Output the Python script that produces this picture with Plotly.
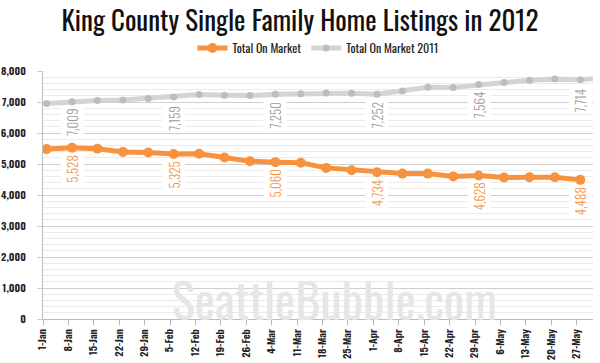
import plotly.graph_objects as go
import pandas as pd

# ---- data ----
dates_2012 = pd.date_range("2012-01-02", periods=22, freq="7D")
dates_2011 = pd.date_range("2012-01-02", periods=23, freq="7D")
tick_dates = pd.date_range("2012-01-01", periods=22, freq="7D")
tick_labels = ["1-Jan", "8-Jan", "15-Jan", "22-Jan", "29-Jan", "5-Feb", "12-Feb", "19-Feb",
               "26-Feb", "4-Mar", "11-Mar", "18-Mar", "25-Mar", "1-Apr", "8-Apr", "15-Apr",
               "22-Apr", "29-Apr", "6-May", "13-May", "20-May", "27-May"]
total_2012 = [5480, 5528, 5490, 5390, 5370, 5325, 5330, 5210, 5090, 5060, 5040,
              4875, 4800, 4734, 4690, 4690, 4600, 4628, 4565, 4575, 4575, 4488]
total_2011 = [6950, 7009, 7046, 7066, 7110, 7159, 7238, 7216, 7206, 7250, 7270,
              7290, 7280, 7252, 7355, 7474, 7464, 7564, 7627, 7700, 7742, 7714, 7780]
label_idx = [1, 5, 9, 13, 17, 21]

ORANGE = "#F7923F"
GRAY_LINE = "#D4D4D4"
GRAY_MARK = "#BDBDBD"
FONT = "Oswald, Roboto Condensed, sans-serif"

fig = go.Figure()
fig.add_trace(go.Scatter(
    x=dates_2012, y=total_2012, name="Total On Market", mode="lines+markers",
    line=dict(color=ORANGE, width=5), marker=dict(color=ORANGE, size=10),
))
fig.add_trace(go.Scatter(
    x=dates_2011, y=total_2011, name="Total On Market 2011", mode="lines+markers",
    line=dict(color=GRAY_LINE, width=5), marker=dict(color=GRAY_MARK, size=7),
))

annotations = []
for i in label_idx:
    for xs, ys, col in ((dates_2012, total_2012, ORANGE), (dates_2011, total_2011, "#9A9A9A")):
        annotations.append(dict(
            x=xs[i], y=ys[i], xref="x", yref="y", text=f"{ys[i]:,}",
            textangle=-90, showarrow=True, arrowcolor="rgba(0,0,0,0)", ax=0, ay=21,
            bgcolor="white", borderpad=1,
            font=dict(family=FONT, size=13, color=col, weight=300),
        ))
annotations.append(dict(
    x=0.53, y=0.083, xref="paper", yref="paper", xanchor="center", yanchor="middle",
    text="SeattleBubble.com", showarrow=False,
    font=dict(family=FONT, size=48, color="#E6E6E6"),
))

fig.update_layout(
    width=600, height=363,
    margin=dict(l=43, r=7, t=71, b=44, autoexpand=False),
    paper_bgcolor="white", plot_bgcolor="white",
    title=dict(text="King County Single Family Home Listings in 2012",
               x=0.5, xanchor="center", y=0.94, yanchor="middle",
               font=dict(family=FONT, size=27, color="#111111")),
    legend=dict(orientation="h", x=0.5, xanchor="center", yref="container",
                y=1 - 48 / 363, yanchor="middle",
                font=dict(family=FONT, size=12, color="#222222"), itemwidth=30,
                bgcolor="rgba(0,0,0,0)"),
    annotations=annotations,
    showlegend=True,
)
fig.update_xaxes(
    range=["2012-01-01", "2012-05-31 12:00"],
    tickvals=tick_dates, ticktext=tick_labels, tickangle=-90,
    tickfont=dict(family=FONT, size=10.5, color="#222222", weight=600),
    showgrid=False, showline=True, linecolor="#BBBBBB", linewidth=1,
    ticks="outside", ticklen=5, tickcolor="#BBBBBB", automargin=False,
)
fig.update_yaxes(
    range=[0, 8000], tickvals=list(range(0, 8001, 1000)),
    ticktext=[f"{v:,}" for v in range(0, 8001, 1000)],
    tickfont=dict(family=FONT, size=10.5, color="#222222", weight=600),
    showgrid=True, gridcolor="#CFCFCF", gridwidth=1,
    minor=dict(dtick=200, showgrid=True, gridcolor="#EBEBEB", gridwidth=1),
    showline=True, linecolor="#BBBBBB", linewidth=1,
    ticks="outside", ticklen=5, tickcolor="#CFCFCF", ticklabelstandoff=9,
    zeroline=False, automargin=False,
)

fig.write_html(
    "out.html",
    config={"displayModeBar": False},
    post_script="document.body.style.margin='0';document.body.style.overflow='hidden';",
)
